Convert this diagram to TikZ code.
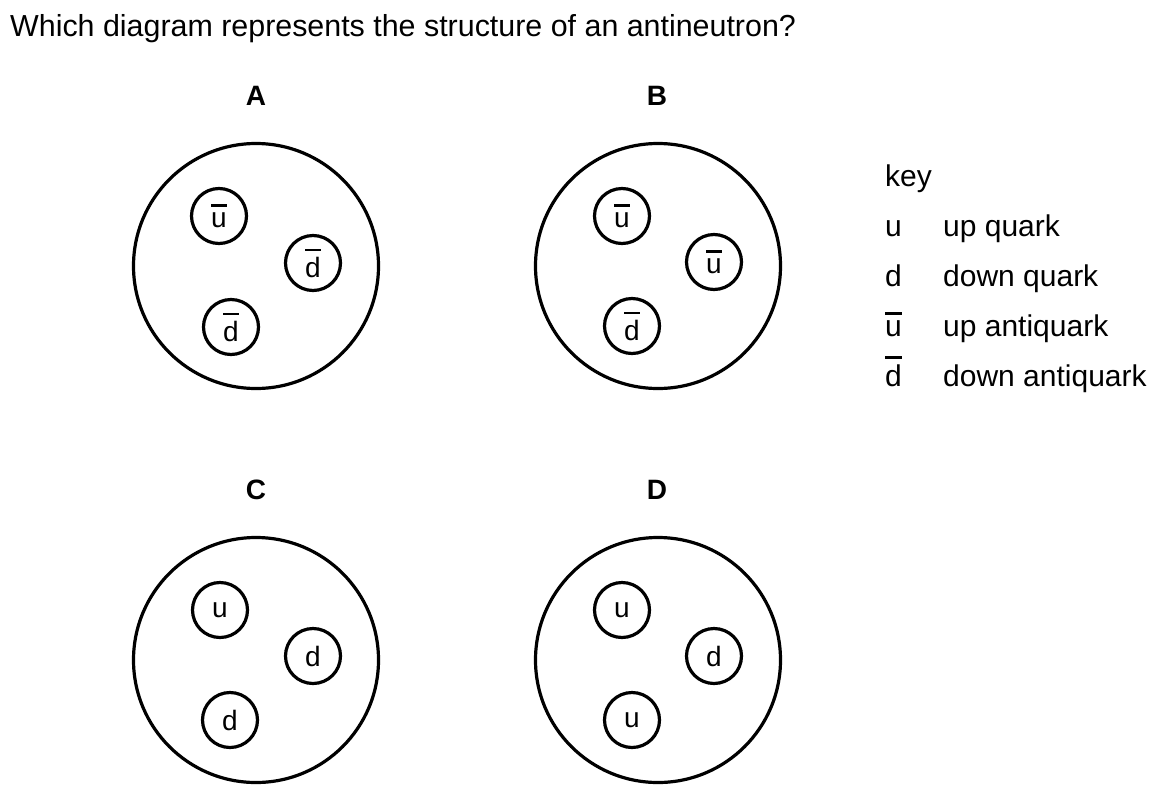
\documentclass[tikz,border=0pt]{standalone}
\usepackage{fontspec}
\setmainfont{Liberation Sans}
\newcommand\ovl[1]{\setbox0\hbox{#1}\rlap{\raisebox{\dimexpr\ht0+5.5pt\relax}{\rule{\wd0}{2.6pt}}}\box0}
\tikzset{
  qtxt/.style={font=\fontsize{30.4}{36}\selectfont, inner sep=0pt, anchor=base west},
  lbl/.style={font=\fontsize{28}{34}\selectfont\bfseries, inner sep=0pt, anchor=base},
  hadron/.style={circle, draw, line width=3.2pt, minimum size=245pt, inner sep=0pt},
  quark/.style={circle, draw, line width=3.2pt, minimum size=55pt, inner sep=0pt, font=\fontsize{28}{32}\selectfont},
  keytxt/.style={font=\fontsize{30}{36}\selectfont, inner sep=0pt, anchor=base west}
}
\begin{document}
\begin{tikzpicture}[x=1pt,y=-1pt]
\useasboundingbox (0,0) rectangle (1157,801);
\node[qtxt] (q) at (10,36) {Which diagram represents the structure of an antineutron?};
% A
\node[lbl] (la) at (256,105) {A};
\node[hadron] (ha) at (256,266) {};
\node[quark] (a1) at (219,216) {\ovl{u}};
\node[quark] (a2) at (313,263) {\ovl{d}};
\node[quark] (a3) at (231,327) {\ovl{d}};
% B
\node[lbl] (lb) at (657,105) {B};
\node[hadron] (hb) at (658,266) {};
\node[quark] (b1) at (622,216) {\ovl{u}};
\node[quark] (b2) at (714,262) {\ovl{u}};
\node[quark] (b3) at (632,326) {\ovl{d}};
% C
\node[lbl] (lc) at (256,499) {C};
\node[hadron] (hc) at (256,660) {};
\node[quark] (c1) at (220,610) {u};
\node[quark] (c2) at (313,656) {d};
\node[quark] (c3) at (230,720) {d};
% D
\node[lbl] (ld) at (657,499) {D};
\node[hadron] (hd) at (658,660) {};
\node[quark] (d1) at (622,610) {u};
\node[quark] (d2) at (714,656) {d};
\node[quark] (d3) at (632,720) {u};
% key
\node[keytxt] (k0) at (885,186) {key};
\node[keytxt] (k1) at (885,236) {u};
\node[keytxt] (k1t) at (943,236) {up quark};
\node[keytxt] (k2) at (885,286) {d};
\node[keytxt] (k2t) at (943,286) {down quark};
\node[keytxt] (k3) at (885,336) {\ovl{u}};
\node[keytxt] (k3t) at (943,336) {up antiquark};
\node[keytxt] (k4) at (885,386) {\ovl{d}};
\node[keytxt] (k4t) at (943,386) {down antiquark};
\end{tikzpicture}
\end{document}
